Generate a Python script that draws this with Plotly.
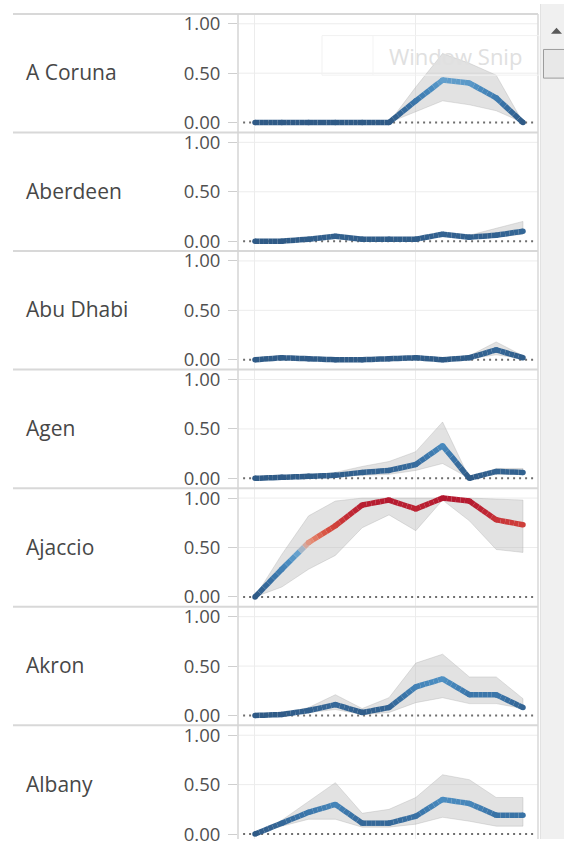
import plotly.graph_objects as go

# ---------------- data ----------------
periods = [0, 1, 2, 3, 4, 5, 6, 7, 8, 9, 10]
cities = ["A Coruna", "Aberdeen", "Abu Dhabi", "Agen", "Ajaccio", "Akron", "Albany"]

a_coruna_mean = [0, 0, 0, 0, 0, 0, 0.22, 0.43, 0.40, 0.25, 0.00]
a_coruna_high = [0, 0, 0, 0, 0, 0, 0.36, 0.70, 0.60, 0.48, 0.00]
a_coruna_low = [0, 0, 0, 0, 0, 0, 0.11, 0.22, 0.18, 0.12, 0.00]

aberdeen_mean = [0, 0, 0.02, 0.05, 0.02, 0.02, 0.02, 0.07, 0.04, 0.06, 0.10]
aberdeen_high = [0, 0.01, 0.03, 0.07, 0.03, 0.03, 0.03, 0.09, 0.06, 0.13, 0.20]
aberdeen_low = [0, 0, 0.01, 0.03, 0.01, 0.01, 0.01, 0.05, 0.03, 0.04, 0.07]

abu_dhabi_mean = [0, 0.02, 0.01, 0.00, 0.00, 0.01, 0.02, 0.00, 0.02, 0.10, 0.02]
abu_dhabi_high = [0, 0.03, 0.02, 0.01, 0.01, 0.02, 0.03, 0.01, 0.04, 0.18, 0.04]
abu_dhabi_low = [0, 0.01, 0, 0, 0, 0, 0.01, 0, 0.01, 0.05, 0.01]

agen_mean = [0, 0.01, 0.02, 0.03, 0.06, 0.08, 0.14, 0.33, 0.00, 0.07, 0.06]
agen_high = [0, 0.02, 0.03, 0.06, 0.12, 0.17, 0.27, 0.57, 0.00, 0.10, 0.10]
agen_low = [0, 0.01, 0.01, 0.02, 0.03, 0.04, 0.08, 0.15, 0.00, 0.04, 0.04]

ajaccio_mean = [0, 0.28, 0.55, 0.72, 0.93, 0.98, 0.89, 1.00, 0.97, 0.78, 0.73]
ajaccio_high = [0, 0.43, 0.82, 0.97, 1.00, 1.00, 1.00, 1.00, 1.00, 0.99, 0.98]
ajaccio_low = [0, 0.10, 0.28, 0.42, 0.70, 0.83, 0.67, 0.98, 0.77, 0.48, 0.45]

akron_mean = [0, 0.01, 0.05, 0.11, 0.03, 0.08, 0.29, 0.37, 0.21, 0.21, 0.08]
akron_high = [0, 0.02, 0.08, 0.21, 0.07, 0.18, 0.53, 0.62, 0.39, 0.39, 0.17]
akron_low = [0, 0.00, 0.03, 0.06, 0.01, 0.03, 0.13, 0.18, 0.12, 0.12, 0.07]

albany_mean = [0, 0.11, 0.22, 0.30, 0.11, 0.11, 0.18, 0.35, 0.31, 0.19, 0.19]
albany_high = [0, 0.14, 0.33, 0.52, 0.21, 0.25, 0.37, 0.60, 0.55, 0.37, 0.37]
albany_low = [0, 0.08, 0.15, 0.15, 0.07, 0.07, 0.10, 0.17, 0.13, 0.08, 0.08]

y_tick_vals = [0, 0.5, 1.0]
y_tick_text = ["0.00", "0.50", "1.00"]

series = [
    (a_coruna_mean, a_coruna_high, a_coruna_low),
    (aberdeen_mean, aberdeen_high, aberdeen_low),
    (abu_dhabi_mean, abu_dhabi_high, abu_dhabi_low),
    (agen_mean, agen_high, agen_low),
    (ajaccio_mean, ajaccio_high, ajaccio_low),
    (akron_mean, akron_high, akron_low),
    (albany_mean, albany_high, albany_low),
]

# diverging blue - grey - red colour scale (value -> colour)
color_stops = [
    (0.00, "#2f5a86"),
    (0.20, "#3a74a8"),
    (0.35, "#4a8cc0"),
    (0.45, "#69a4cf"),
    (0.50, "#c6c0c2"),
    (0.56, "#e58c74"),
    (0.66, "#d8503f"),
    (0.82, "#c22a35"),
    (1.00, "#b3182f"),
]


def hex_rgb(h):
    h = h.lstrip("#")
    return tuple(int(h[i:i + 2], 16) for i in (0, 2, 4))


def color_at(v):
    v = max(0.0, min(1.0, v))
    for (v0, c0), (v1, c1) in zip(color_stops[:-1], color_stops[1:]):
        if v <= v1:
            t = 0 if v1 == v0 else (v - v0) / (v1 - v0)
            a, b = hex_rgb(c0), hex_rgb(c1)
            r = [round(a[i] + (b[i] - a[i]) * t) for i in range(3)]
            return f"rgb({r[0]},{r[1]},{r[2]})"
    return color_stops[-1][1]


# ---------------- layout geometry ----------------
W, H = 564, 845
PLOT_L, PLOT_R = 238, 538
PANEL_TOP0, PANEL_H = 10, 120


def px(x):
    return x / W


def py(y):
    return 1 - y / H


fig = go.Figure()
layout = dict(
    width=W, height=H, margin=dict(l=0, r=0, t=0, b=0),
    paper_bgcolor="white", plot_bgcolor="white", showlegend=False,
)
shapes = []
annotations = []

x_range = [-0.634, 10.56]
SUB = 6

for k, (name, (mean, high, low)) in enumerate(zip(cities, series), start=1):
    xa = "x" if k == 1 else f"x{k}"
    ya = "y" if k == 1 else f"y{k}"
    top = PANEL_TOP0 + PANEL_H * (k - 1)
    bottom = min(top + PANEL_H, H)
    ymin = 1.1 - (bottom - top) / 100.0

    layout[f"xaxis{'' if k == 1 else k}"] = dict(
        domain=[px(PLOT_L), px(PLOT_R)], range=x_range, anchor=ya,
        showgrid=True, gridcolor="#ececec", gridwidth=1, tickvals=[0, 6],
        showticklabels=False, ticks="", zeroline=False, showline=False, fixedrange=True,
    )
    layout[f"yaxis{'' if k == 1 else k}"] = dict(
        domain=[py(bottom), py(top)], range=[ymin, 1.1], anchor=xa,
        tickvals=y_tick_vals, ticktext=y_tick_text, showgrid=False, zeroline=False,
        showline=False, ticks="outside", ticklen=9, tickcolor="#cfcfcf", tickwidth=1,
        ticklabelstandoff=4, ticklabeloverflow="allow",
        tickfont=dict(family="Open Sans", size=18.5, color="#505050"), fixedrange=True,
    )

    # reference grid lines at 0.5 and 1.0
    for gv in (0.5, 1.0):
        shapes.append(dict(type="line", xref=f"{xa} domain", yref=ya, x0=0, x1=1, y0=gv, y1=gv,
                           line=dict(color="#ececec", width=1), layer="below"))
    # dotted zero line
    shapes.append(dict(type="line", xref=f"{xa} domain", yref=ya, x0=0.017, x1=0.99, y0=0, y1=0,
                       line=dict(color="#6e6e6e", width=2, dash="2px,4px"), layer="below"))

    # confidence band
    fig.add_trace(go.Scatter(
        x=periods + periods[::-1], y=high + low[::-1], xaxis=xa, yaxis=ya,
        mode="lines", fill="toself", fillcolor="rgba(185,185,185,0.42)",
        line=dict(color="rgba(165,165,165,0.45)", width=0.7), hoverinfo="skip",
    ))

    # gradient coloured line (each segment split only for colour shading)
    for i in range(len(periods) - 1):
        x0, x1 = periods[i], periods[i + 1]
        v0, v1 = mean[i], mean[i + 1]
        for j in range(SUB):
            t0, t1 = j / SUB, (j + 1) / SUB
            tm = (t0 + t1) / 2
            fig.add_trace(go.Scatter(
                x=[x0 + (x1 - x0) * t0, x0 + (x1 - x0) * t1],
                y=[v0 + (v1 - v0) * t0, v0 + (v1 - v0) * t1],
                xaxis=xa, yaxis=ya, mode="lines",
                line=dict(color=color_at(v0 + (v1 - v0) * tm), width=5.5),
                hoverinfo="skip",
            ))
    fig.add_trace(go.Scatter(
        x=periods, y=mean, xaxis=xa, yaxis=ya, mode="markers",
        marker=dict(size=5.5, color=[color_at(v) for v in mean], line=dict(width=0)),
        name=name,
    ))

    # row header label
    annotations.append(dict(
        text=name, xref="paper", yref="paper", x=px(24), y=py(top + 59),
        xanchor="left", yanchor="middle", showarrow=False,
        font=dict(family="Open Sans", size=21, color="#474747"),
    ))

# row separators
for k in range(7):
    yy = PANEL_TOP0 + PANEL_H * k
    shapes.append(dict(type="line", xref="paper", yref="paper", x0=px(13), x1=px(PLOT_R),
                       y0=py(yy), y1=py(yy), line=dict(color="#d8d8d8", width=2)))
# pane borders
shapes.append(dict(type="line", xref="paper", yref="paper", x0=px(PLOT_L), x1=px(PLOT_L),
                   y0=py(PANEL_TOP0), y1=py(H), line=dict(color="#d4d4d4", width=1.5)))
shapes.append(dict(type="line", xref="paper", yref="paper", x0=px(PLOT_R), x1=px(PLOT_R),
                   y0=py(PANEL_TOP0), y1=py(H), line=dict(color="#d8d8d8", width=1.5)))

# "Window Snip" watermark box
shapes.append(dict(type="rect", xref="paper", yref="paper", x0=px(322), x1=px(539),
                   y0=py(72), y1=py(32), line=dict(color="#f1f1f1", width=1)))
shapes.append(dict(type="line", xref="paper", yref="paper", x0=px(373), x1=px(373),
                   y0=py(72), y1=py(32), line=dict(color="#f3f3f3", width=1)))
annotations.append(dict(text="Window Snip", xref="paper", yref="paper", x=px(455), y=py(53),
                        xanchor="center", yanchor="middle", showarrow=False,
                        font=dict(family="Open Sans", size=22, color="#e0e0e0")))

# scrollbar on the right
shapes.append(dict(type="rect", xref="paper", yref="paper", x0=px(540), x1=1.0,
                   y0=0, y1=1, fillcolor="#f0f0f0", line=dict(width=0)))
shapes.append(dict(type="line", xref="paper", yref="paper", x0=px(540.5), x1=px(540.5),
                   y0=0, y1=1, line=dict(color="#e2e2e2", width=1)))
shapes.append(dict(type="path", xref="paper", yref="paper",
                   path=f"M {px(551)} {py(30)} L {px(562)} {py(30)} L {px(556.5)} {py(24)} Z",
                   fillcolor="#5a5a5a", line=dict(width=0)))
shapes.append(dict(type="rect", xref="paper", yref="paper", x0=px(543.5), x1=px(566),
                   y0=py(75), y1=py(46), fillcolor="#e8e8e8", line=dict(color="#9c9c9c", width=1)))

layout["shapes"] = shapes
layout["annotations"] = annotations
fig.update_layout(**layout)

# remove the browser's default page margin so the 564x845 figure fills the window
fig.write_html(
    "out.html",
    config={"displayModeBar": False},
    post_script="document.body.style.margin='0';document.body.style.overflow='hidden';",
)
